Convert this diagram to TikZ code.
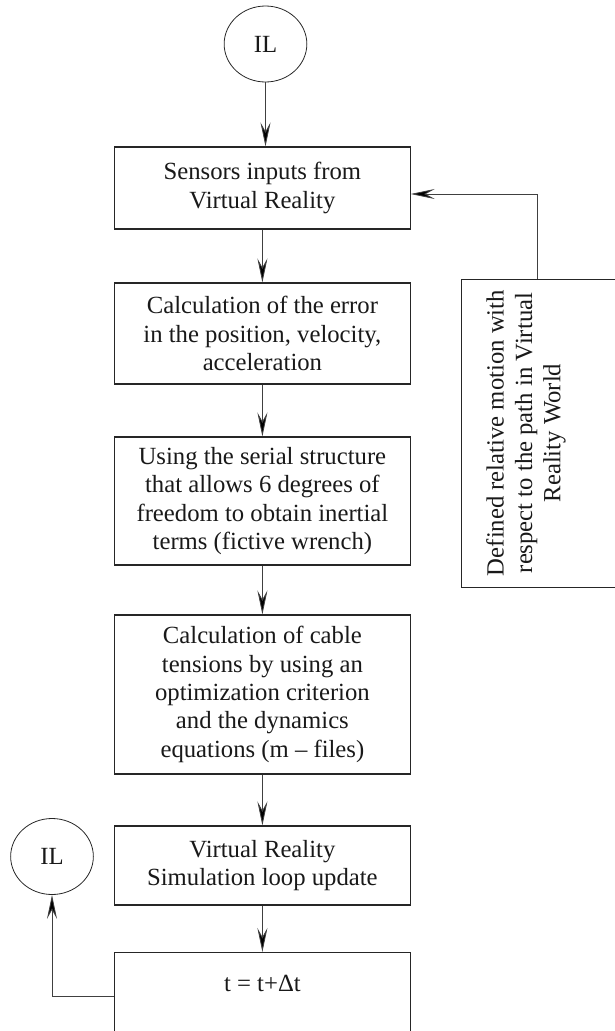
\documentclass[tikz,border=0pt]{standalone}
\usepackage{fontspec}
\setmainfont{Liberation Serif}
\usetikzlibrary{shapes.geometric,arrows.meta}
\begin{document}
\begin{tikzpicture}[x=1pt,y=-1pt,
 every node/.style={font=\fontsize{24.7}{28.3}\selectfont, text=black!90},
 box/.style={draw=black!85, line width=1.1pt, minimum width=296.7pt, align=center, inner sep=0pt},
 circ/.style={draw=black!85, ellipse, line width=0.8pt, minimum width=82.7pt, minimum height=76pt, inner sep=0pt},
 arr/.style={draw=black!75, line width=0.8pt, -{Stealth[length=24pt,width=10pt,inset=9pt,fill=black]}}]
\useasboundingbox (0,0) rectangle (615,1031);
\clip (0,0) rectangle (615,1031);
\node[circ] (c1) at (265.5,44) {IL};
\node[box, minimum height=82pt] (b1) at (262.4,188) {Sensors inputs from\\Virtual Reality};
\node[box, minimum height=101pt] (b2) at (262.4,333.5) {Calculation of the error\\in the position, velocity,\\acceleration};
\node[box, minimum height=128pt] (b3) at (262.4,501) {Using the serial structure\\that allows 6 degrees of\\freedom to obtain inertial\\terms (fictive wrench)};
\node[box, minimum height=159pt] (b4) at (262.4,694.5) {Calculation of cable\\tensions by using an\\optimization criterion\\and the dynamics\\equations (m – files)};
\node[box, minimum height=79pt] (b5) at (262.4,865.5) {Virtual Reality\\Simulation loop update};
\node[box, minimum height=120pt, anchor=north] (b6) at (262.4,952) {};
\node (t6) at (262.4,983) {t = t+Δt};
\node[circ] (c2) at (52,856.5) {IL};
\node[draw=black!85, line width=1.1pt, minimum width=180pt, minimum height=308pt, anchor=north west] (rb) at (461,279) {};
\node[rotate=90, align=center] (rt) at (526,433) {Defined relative motion with\\respect to the path in Virtual\\Reality World};
\coordinate (fb) at (537,279);
\coordinate (in1) at (410.7,194);
\coordinate (out6) at (114,996);
\draw[arr] (c1) -- (c1 |- b1.north);
\draw[arr] (b1) -- (b2);
\draw[arr] (b2) -- (b3);
\draw[arr] (b3) -- (b4);
\draw[arr] (b4) -- (b5);
\draw[arr] (b5) -- (b6);
\draw[arr] (fb) |- (in1);
\draw[arr] (out6) -| (c2.south);
\end{tikzpicture}
\end{document}
